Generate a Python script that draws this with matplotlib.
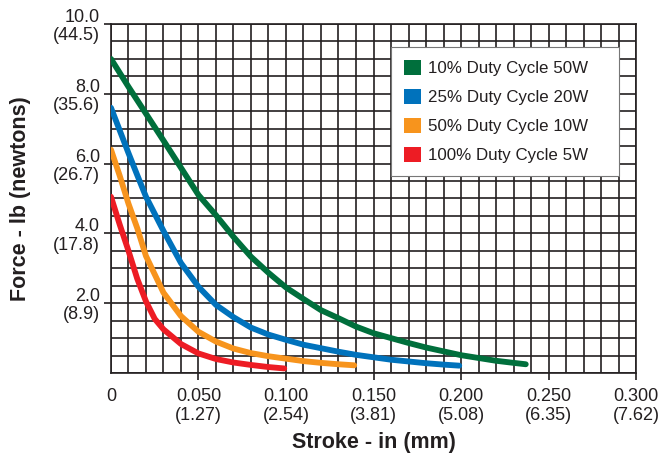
import matplotlib
matplotlib.use('Agg')
import matplotlib.pyplot as plt
from matplotlib.patches import Patch
from matplotlib.ticker import MultipleLocator

plt.rcParams['font.family'] = ['Liberation Sans', 'DejaVu Sans']

# values
x_50w = [0, 0.01, 0.02, 0.03, 0.04, 0.05, 0.06, 0.07, 0.08, 0.09, 0.10, 0.11, 0.12,
         0.13, 0.14, 0.15, 0.16, 0.17, 0.18, 0.19, 0.20, 0.21, 0.22, 0.23, 0.237]
y_50w = [9.0, 8.2, 7.43, 6.66, 5.88, 5.1, 4.52, 3.9, 3.33, 2.87, 2.45, 2.12, 1.8,
         1.57, 1.33, 1.14, 1.0, 0.86, 0.73, 0.62, 0.51, 0.43, 0.35, 0.29, 0.25]

x_20w = [0, 0.005, 0.01, 0.015, 0.02, 0.03, 0.04, 0.05, 0.06, 0.07, 0.08, 0.09, 0.10,
         0.11, 0.12, 0.13, 0.14, 0.15, 0.16, 0.17, 0.18, 0.19, 0.199]
y_20w = [7.6, 6.95, 6.3, 5.67, 5.05, 4.07, 3.15, 2.47, 1.95, 1.6, 1.3, 1.1, 0.95,
         0.81, 0.71, 0.61, 0.52, 0.45, 0.38, 0.33, 0.28, 0.24, 0.21]

x_10w = [0, 0.005, 0.01, 0.015, 0.02, 0.03, 0.04, 0.05, 0.06, 0.07, 0.08, 0.09, 0.10,
         0.11, 0.12, 0.13, 0.139]
y_10w = [6.4, 5.65, 4.85, 4.15, 3.35, 2.3, 1.63, 1.18, 0.9, 0.7, 0.57, 0.48, 0.41,
         0.34, 0.29, 0.25, 0.22]

x_5w = [0, 0.005, 0.01, 0.015, 0.02, 0.025, 0.03, 0.04, 0.05, 0.06, 0.07, 0.08, 0.09, 0.099]
y_5w = [5.05, 4.25, 3.5, 2.7, 2.05, 1.55, 1.25, 0.83, 0.56, 0.4, 0.3, 0.23, 0.17, 0.13]

series_labels = ['10% Duty Cycle 50W', '25% Duty Cycle 20W', '50% Duty Cycle 10W', '100% Duty Cycle 5W']
series_colors = ['#006F3C', '#0072BC', '#F7941D', '#ED1C24']

x_ticks = [0, 0.05, 0.10, 0.15, 0.20, 0.25, 0.30]
x_ticklabels = ['0', '0.050\n(1.27)', '0.100\n(2.54)', '0.150\n(3.81)',
                '0.200\n(5.08)', '0.250\n(6.35)', '0.300\n(7.62)']
y_ticks = [2, 4, 6, 8, 10]
y_ticklabels = ['2.0\n(8.9)', '4.0\n(17.8)', '6.0\n(26.7)', '8.0\n(35.6)', '10.0\n(44.5)']

ink = '#231F20'

fig = plt.figure(figsize=(6.63, 4.59), dpi=100)
ax = fig.add_axes([0.1674, 0.1874, 0.7919, 0.7603])

curves = [(x_50w, y_50w), (x_20w, y_20w), (x_10w, y_10w), (x_5w, y_5w)]
for (xs, ys), col in zip(curves, series_colors):
    ax.plot(xs, ys, color=col, lw=4.2, solid_capstyle='round', solid_joinstyle='round', zorder=3)

ax.set_xlim(0, 0.3)
ax.set_ylim(0, 10)
ax.xaxis.set_minor_locator(MultipleLocator(0.01))
ax.yaxis.set_minor_locator(MultipleLocator(0.5))
ax.set_xticks(x_ticks)
ax.set_xticklabels(x_ticklabels, linespacing=1.1)
ax.set_yticks(y_ticks)
ax.set_yticklabels(y_ticklabels, linespacing=1.1)
ax.grid(True, which='both', color=ink, lw=1.2)
ax.set_axisbelow(True)
ax.tick_params(which='minor', length=0)
ax.tick_params(which='major', length=5, width=1.2, color=ink, labelsize=13,
               labelcolor=ink, direction='out')
ax.tick_params(axis='x', pad=6)
ax.tick_params(axis='y', pad=3)
ax.xaxis.get_major_ticks()[0].tick1line.set_visible(False)
for sp in ax.spines.values():
    sp.set_color(ink)
    sp.set_linewidth(1.2)

ax.set_xlabel('Stroke - in (mm)', fontsize=15.5, fontweight='bold', color=ink)
ax.xaxis.set_label_coords(0.5, -0.168)
ax.set_ylabel('Force - lb (newtons)', fontsize=15.5, fontweight='bold', color=ink)
ax.yaxis.set_label_coords(-0.153, 0.5)

handles = [Patch(facecolor=c, edgecolor='none') for c in series_colors]
leg = ax.legend(handles, series_labels, loc='upper left',
                bbox_to_anchor=(391 / 663, 1 - 172 / 459, 228 / 663, 125 / 459),
                bbox_transform=fig.transFigure, mode='expand',
                fontsize=12.2, frameon=True, fancybox=False, framealpha=1,
                edgecolor='#777777', handlelength=1.0, handleheight=1.0,
                handletextpad=0.45, labelspacing=0.75, borderpad=0.75,
                borderaxespad=0)
leg.get_frame().set_linewidth(0.8)
for t in leg.get_texts():
    t.set_color(ink)

fig.savefig('out.png', dpi=100)
